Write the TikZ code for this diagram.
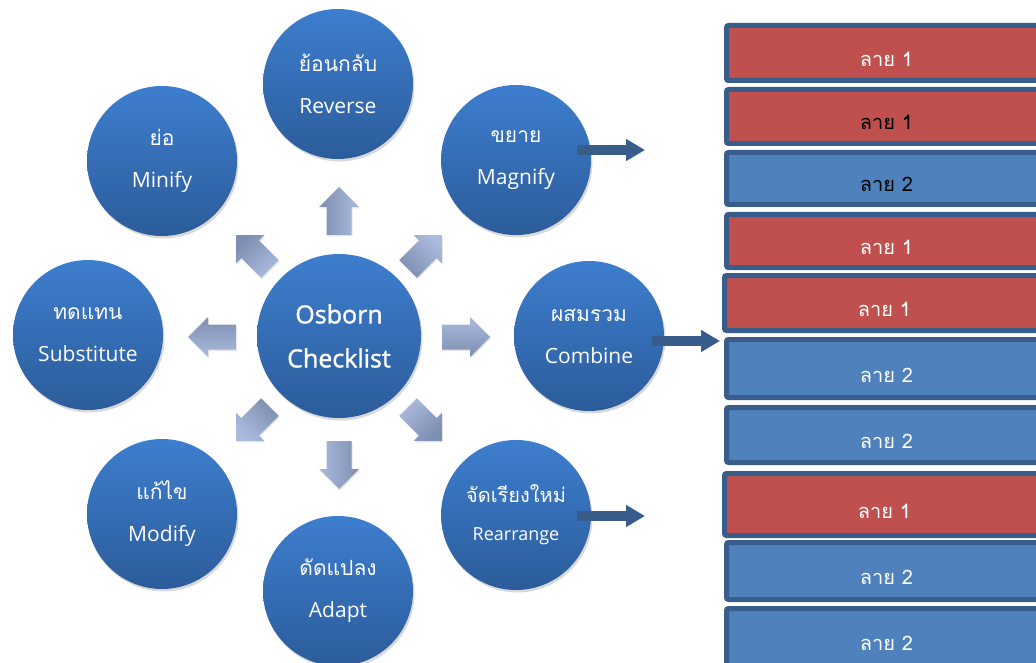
\documentclass[tikz,border=0pt]{standalone}
\usepackage{fontspec}
\setmainfont{Open Sans}
\newfontfamily\thaifont[Script=Thai]{Loma}
\newfontfamily\hubfont[FakeBold=1.4]{Open Sans}
\usetikzlibrary{arrows.meta, shadows}

\definecolor{ballTop}{HTML}{3D7ECE}
\definecolor{ballBot}{HTML}{2C5C9A}
\definecolor{arrTop}{HTML}{AABBDD}
\definecolor{arrBot}{HTML}{7D8EB0}
\definecolor{lineBlue}{HTML}{385D8A}
\definecolor{stripRed}{HTML}{C0504D}
\definecolor{stripBlue}{HTML}{4F81BD}

\tikzset{
  ball/.style={circle, minimum size=150pt, inner sep=0pt, top color=ballTop,
    bottom color=ballBot, text=white, align=center,
    font=\fontsize{21}{42}\selectfont,
    drop shadow={shadow xshift=1.5pt, shadow yshift=-2.5pt, opacity=0.3}},
  hub/.style={ball, minimum size=164pt, font=\hubfont\fontsize{25}{44}\selectfont},
  fatarrow/.style={top color=arrTop, bottom color=arrBot,
    drop shadow={shadow xshift=1pt, shadow yshift=-1.5pt, opacity=0.2}},
  strip/.style={rectangle, anchor=west, minimum width=320pt, draw=lineBlue,
    line width=5pt, rounded corners=2pt, text=white,
    font=\thaifont\fontsize{20}{24}\selectfont, text height=27pt, text depth=0pt},
  link/.style={lineBlue, line width=10pt, -{Triangle[length=19pt, width=21pt]}}
}
\newcommand{\fatarrowpath}{(-24,-12.5) -- (4,-12.5) -- (4,-20) -- (24,0) -- (4,20) -- (4,12.5) -- (-24,12.5) -- cycle}

\begin{document}
\begin{tikzpicture}[x=1pt, y=-1pt]
  \useasboundingbox (0,0) rectangle (1036,663);
  \clip (0,0) rectangle (1036,663);
  \coordinate (magEnd) at (645,150);
  \coordinate (comEnd) at (720,341);
  \coordinate (reaEnd) at (645,516);
  % circles
  \node[hub] (osb) at (339,336) {Osborn\\Checklist};
  \node[ball] (rev) at (338,84) {{\thaifont ย้อนกลับ}\\Reverse};
  \node[ball] (mini) at (162,161) {{\thaifont ย่อ}\\Minify};
  \node[ball] (mag) at (516,160) {{\thaifont ขยาย}\\Magnify};
  \node[ball] (sub) at (88,335) {{\thaifont ทดแทน}\\Substitute};
  \node[ball] (com) at (589,336) {{\thaifont ผสมรวม}\\Combine};
  \node[ball] (mod) at (162,514) {{\thaifont แก้ไข}\\Modify};
  \node[ball] (ada) at (338,591) {{\thaifont ดัดแปลง}\\Adapt};
  \node[ball, font=\fontsize{18}{38}\selectfont] (rea) at (516,515) {{\thaifont\fontsize{20}{38}\selectfont จัดเรียงใหม่}\\Rearrange};
  % arrows round the hub
  \shade[fatarrow, shift={(339,211)}, rotate=90, shading angle=-90] \fatarrowpath;
  \shade[fatarrow, shift={(339,465)}, rotate=-90, shading angle=90] \fatarrowpath;
  \shade[fatarrow, shift={(212,337)}, rotate=180, shading angle=180] \fatarrowpath;
  \shade[fatarrow, shift={(466,337)}] \fatarrowpath;
  \shade[fatarrow, shift={(253,252)}, rotate=135, shading angle=-135] \fatarrowpath;
  \shade[fatarrow, shift={(425,252)}, rotate=45, shading angle=-45] \fatarrowpath;
  \shade[fatarrow, shift={(253,424)}, rotate=-135, shading angle=135] \fatarrowpath;
  \shade[fatarrow, shift={(425,424)}, rotate=-45, shading angle=45] \fatarrowpath;
  % strips
  \node[strip, fill=stripRed, minimum height=55pt] (s1) at (724,53) {ลาย 1};
  \node[strip, fill=stripRed, minimum height=54pt, text=black] (s2) at (724,116.5) {ลาย 1};
  \node[strip, fill=stripBlue, minimum height=52pt, text=black] (s3) at (724,178.5) {ลาย 2};
  \node[strip, fill=stripRed, minimum height=53pt] (s4) at (724,241) {ลาย 1};
  \node[strip, fill=stripRed, minimum height=55pt] (s5) at (722,303) {ลาย 1};
  \node[strip, fill=stripBlue, minimum height=58pt] (s6) at (724,368.5) {ลาย 2};
  \node[strip, fill=stripBlue, minimum height=55pt] (s7) at (724,435) {ลาย 2};
  \node[strip, fill=stripRed, minimum height=62pt] (s8) at (722,504.5) {ลาย 1};
  \node[strip, fill=stripBlue, minimum height=57pt] (s9) at (724,571) {ลาย 2};
  \node[strip, fill=stripBlue, minimum height=57pt] (s10) at (724,637) {ลาย 2};
  % links to strips
  \draw[link] ([xshift=-14pt, yshift=10pt]mag.east) -- (magEnd);
  \draw[link] ([xshift=-12pt, yshift=-5pt]com.east) -- (comEnd);
  \draw[link] ([xshift=-14pt, yshift=-1pt]rea.east) -- (reaEnd);
\end{tikzpicture}
\end{document}
